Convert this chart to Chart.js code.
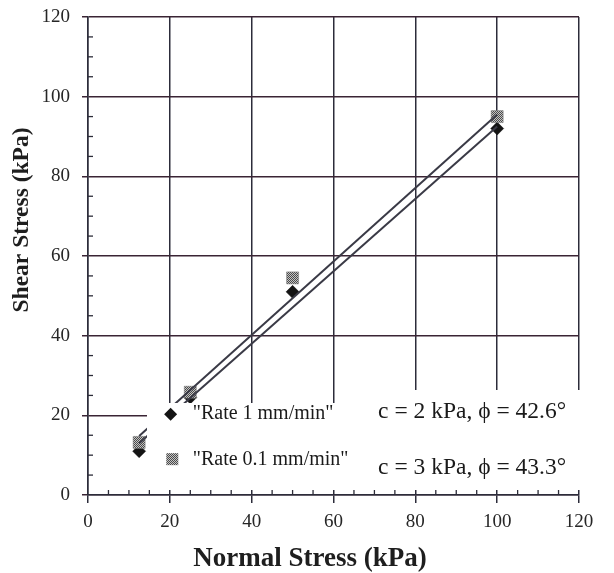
<!DOCTYPE html>
<html>
<head>
<meta charset="utf-8">
<script src="https://cdn.jsdelivr.net/npm/chart.js@4/dist/chart.umd.min.js"></script>
<style>
  html, body { margin: 0; padding: 0; background: #fff; }
  #wrap { width: 614px; height: 573px; position: relative; }
</style>
</head>
<body>
<div id="wrap"><canvas id="c"></canvas></div>
<script>
// ---- data ----
const normalStress = [12.5, 25, 50, 100];
const shearRate1 = [11, 24.5, 51, 92];
const shearRate01 = [13.2, 25.8, 54.5, 95];
const fitStress = [12.5, 100];
const fitRate1 = [13, 92.5];
const fitRate01 = [14.8, 95.5];
const xTickValues = [0, 20, 40, 60, 80, 100, 120];
const yTickValues = [0, 20, 40, 60, 80, 100, 120];
const legendLabels = ['"Rate 1 mm/min"', '"Rate 0.1 mm/min"'];
const fitLabels = ['c = 2 kPa, \u03D5 = 42.6\u00B0', 'c = 3 kPa, \u03D5 = 43.3\u00B0'];
const xTitle = 'Normal Stress (kPa)';
const yTitle = 'Shear Stress (kPa)';

const SERIF = '"Liberation Serif", "DejaVu Serif", "Times New Roman", serif';

function toPoints(xs, ys) { return xs.map((v, i) => ({ x: v, y: ys[i] })); }

// halftone-like grey pattern for square markers
function makePattern() {
  const p = document.createElement('canvas');
  p.width = 2; p.height = 2;
  const g = p.getContext('2d');
  g.fillStyle = '#c4c4c4'; g.fillRect(0, 0, 2, 2);
  g.fillStyle = '#4a4a4a'; g.fillRect(0, 0, 1, 1); g.fillRect(1, 1, 1, 1);
  return g.createPattern(p, 'repeat');
}
const greyPattern = makePattern();

const overlay = {
  id: 'overlay',
  afterDatasetsDraw(chart, args, opts) {
    const { ctx, scales: { x, y } } = chart;
    ctx.save();
    // white boxes behind legend and annotation
    ctx.fillStyle = '#ffffff';
    opts.boxes.forEach(b => {
      const x0 = Math.floor(x.getPixelForValue(b.x0)), x1 = Math.ceil(x.getPixelForValue(b.x1));
      const y0 = Math.floor(y.getPixelForValue(b.y1)), y1 = Math.ceil(y.getPixelForValue(b.y0));
      ctx.fillRect(x0, y0, x1 - x0, y1 - y0);
    });
    // inward minor ticks
    ctx.strokeStyle = '#2c2c38';
    ctx.lineWidth = 1.3;
    const x0p = x.getPixelForValue(0), y0p = y.getPixelForValue(0);
    for (let v = 5; v < 120; v += 5) {
      if (v % 20 === 0) continue;
      const px = x.getPixelForValue(v);
      ctx.beginPath(); ctx.moveTo(px, y0p); ctx.lineTo(px, y0p - 5); ctx.stroke();
      const py = y.getPixelForValue(v);
      ctx.beginPath(); ctx.moveTo(x0p, py); ctx.lineTo(x0p + 5, py); ctx.stroke();
    }
    // legend
    ctx.textBaseline = 'middle';
    ctx.textAlign = 'left';
    ctx.fillStyle = '#1a1a1a';
    ctx.font = '20px ' + SERIF;
    opts.legend.forEach((it, i) => {
      const mx = x.getPixelForValue(it.mx), my = y.getPixelForValue(it.my);
      const ds = chart.data.datasets[it.ds];
      ctx.save();
      ctx.fillStyle = ds.backgroundColor;
      ctx.beginPath();
      if (ds.pointStyle === 'rectRot') {
        const r = 6.5;
        ctx.moveTo(mx, my - r); ctx.lineTo(mx + r, my); ctx.lineTo(mx, my + r); ctx.lineTo(mx - r, my); ctx.closePath();
      } else {
        const h = 6;
        ctx.rect(mx - h, my - h, 2 * h, 2 * h);
      }
      ctx.fill();
      ctx.restore();
      ctx.fillText(legendLabels[i], x.getPixelForValue(it.tx), y.getPixelForValue(it.ty));
    });
    // fit annotations
    ctx.font = '23.5px ' + SERIF;
    opts.notes.forEach((n, i) => {
      ctx.fillText(fitLabels[i], x.getPixelForValue(n.x), y.getPixelForValue(n.y));
    });
    ctx.restore();
  },
  afterDraw(chart, args, opts) {
    const { ctx, chartArea } = chart;
    ctx.save();
    ctx.fillStyle = '#1e1e1e';
    ctx.textAlign = 'center';
    ctx.textBaseline = 'middle';
    // x axis title
    ctx.font = 'bold 27px ' + SERIF;
    ctx.fillText(xTitle, chartArea.left + opts.xTitleOffset, chartArea.bottom + opts.xTitleGap);
    // y axis title (rotated)
    ctx.font = 'bold 23.5px ' + SERIF;
    ctx.translate(opts.yTitleX, chartArea.top + opts.yTitleOffset);
    ctx.rotate(-Math.PI / 2);
    ctx.fillText(yTitle, 0, 0);
    ctx.restore();
  }
};

new Chart(document.getElementById('c'), {
  type: 'scatter',
  data: {
    datasets: [
      {
        label: 'fit 1 mm/min', data: toPoints(fitStress, fitRate1), showLine: true,
        borderColor: '#3a3a46', borderWidth: 2, pointRadius: 0, order: 0
      },
      {
        label: 'fit 0.1 mm/min', data: toPoints(fitStress, fitRate01), showLine: true,
        borderColor: '#3a3a46', borderWidth: 2, pointRadius: 0, order: 0
      },
      {
        label: legendLabels[1], data: toPoints(normalStress, shearRate01),
        pointStyle: 'rect', pointRadius: 8.5, backgroundColor: greyPattern,
        borderColor: '#777', borderWidth: 0.5, order: 1
      },
      {
        label: legendLabels[0], data: toPoints(normalStress, shearRate1),
        pointStyle: 'rectRot', pointRadius: 6.5, backgroundColor: '#141414',
        borderColor: '#141414', borderWidth: 0.5, order: 2
      }
    ]
  },
  options: {
    responsive: true,
    maintainAspectRatio: false,
    animation: false,
    events: [],
    layout: { padding: { top: 0, right: 35, left: 0, bottom: 0 } },
    plugins: {
      legend: { display: false },
      tooltip: { enabled: false },
      overlay: {
        boxes: [
          { x0: 14.6, x1: 71, y0: 1.5, y1: 23 },
          { x0: 70, x1: 121, y0: 1.5, y1: 26.2 }
        ],
        legend: [
          { ds: 3, mx: 20.2, my: 20.3, tx: 25.6, ty: 20.3 },
          { ds: 2, mx: 20.6, my: 9.0, tx: 25.6, ty: 8.8 }
        ],
        notes: [
          { x: 70.9, y: 20.8 },
          { x: 70.9, y: 6.8 }
        ],
        xTitleOffset: 222,
        xTitleGap: 64,
        yTitleX: 22,
        yTitleOffset: 203
      }
    },
    scales: {
      x: {
        type: 'linear', min: 0, max: 120,
        afterBuildTicks: s => { s.ticks = xTickValues.map(v => ({ value: v })); },
        afterFit: s => { s.height = 78; },
        ticks: { font: { family: SERIF, size: 19 }, color: '#262626', padding: 8, maxRotation: 0 },
        grid: { color: '#2c2c3a', lineWidth: 1.5, tickLength: 8, tickColor: '#2c2c3a' },
        border: { color: '#2c2c3a', width: 1.5 },
        title: { display: false, text: xTitle }
      },
      y: {
        type: 'linear', min: 0, max: 120,
        afterBuildTicks: s => { s.ticks = yTickValues.map(v => ({ value: v })); },
        afterFit: s => { s.width = 88; s.paddingTop = 17; },
        ticks: { font: { family: SERIF, size: 19 }, color: '#262626', padding: 12 },
        grid: { color: '#3a2434', lineWidth: 1.5, tickLength: 6, tickColor: '#3a2434' },
        border: { color: '#2c2c3a', width: 1.5 },
        title: { display: false, text: yTitle }
      }
    }
  },
  plugins: [overlay]
});
</script>
</body>
</html>
